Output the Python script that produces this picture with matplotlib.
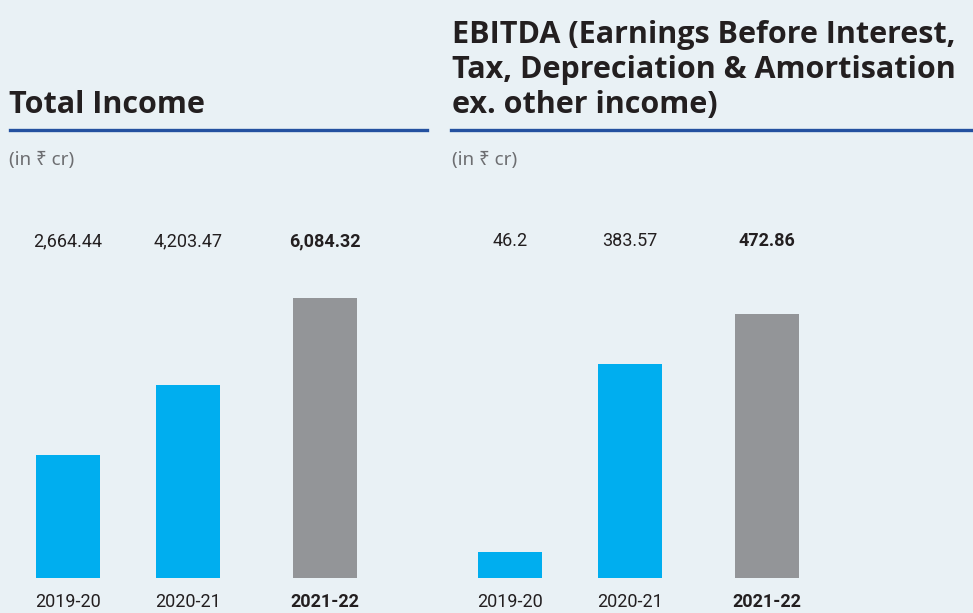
import matplotlib.pyplot as plt
from matplotlib.transforms import blended_transform_factory

years = ['2019-20', '2020-21', '2021-22']
income = [2664.44, 4203.47, 6084.32]
income_labels = ['2,664.44', '4,203.47', '6,084.32']
ebitda = [46.2, 383.57, 472.86]
ebitda_labels = ['46.2', '383.57', '472.86']

BG = '#e9f1f5'
CYAN = '#00aeef'
GREY = '#939598'
NAVY = '#2451a0'
DARK = '#231f20'
W, H = 973, 613

plt.rcParams['font.family'] = ['Roboto', 'DejaVu Sans']
fig = plt.figure(figsize=(W / 100, H / 100), dpi=100, facecolor=BG)

pos = [0, 1, 2.14]
colors = [CYAN, CYAN, GREY]


def px(x, y):
    return x / W, 1 - y / H


def panel(x0, top_px, values, labels):
    left, bottom = px(x0, 578)
    ax = fig.add_axes([left, bottom, 360 / W, (578 - top_px) / H])
    ax.set_facecolor('none')
    ax.bar(pos, values, width=64 / 120, color=colors)
    ax.set_xlim(-0.5, 2.5)
    ax.set_ylim(0, max(values))
    ax.axis('off')
    tr = blended_transform_factory(ax.transData, fig.transFigure)
    for i, (p, lab, yr) in enumerate(zip(pos, labels, years)):
        w = 'bold' if i == 2 else 'normal'
        ax.text(p, px(0, 241)[1], lab, transform=tr, ha='center', va='center',
                fontsize=13, color=DARK, fontweight=w)
        ax.text(p, px(0, 602)[1], yr, transform=tr, ha='center', va='center',
                fontsize=13, color=DARK, fontweight=w)
    return ax


panel(8, 298, income, income_labels)
panel(450, 314, ebitda, ebitda_labels)

title_font = ['Open Sans', 'DejaVu Sans']
fig.text(*px(9, 113), 'Total Income', fontsize=22, fontweight='bold',
         color=DARK, family=title_font, va='baseline')
fig.text(*px(452, 113), 'EBITDA (Earnings Before Interest,\nTax, Depreciation & Amortisation\nex. other income)',
         fontsize=22, fontweight='bold', color=DARK, family=title_font,
         va='baseline', linespacing=1.22)

fig.add_artist(plt.Line2D([10 / W, 427 / W], [px(0, 130)[1]] * 2, color=NAVY, lw=2.4))
fig.add_artist(plt.Line2D([451 / W, 1.0], [px(0, 130)[1]] * 2, color=NAVY, lw=2.4))

sub_font = ['Noto Sans', 'DejaVu Sans']
fig.text(*px(9, 160), '(in ₹ cr)', fontsize=13.5, color='#6d6e71', family=sub_font, va='center')
fig.text(*px(452, 160), '(in ₹ cr)', fontsize=13.5, color='#6d6e71', family=sub_font, va='center')

fig.savefig('out.png', dpi=100, facecolor=BG)
